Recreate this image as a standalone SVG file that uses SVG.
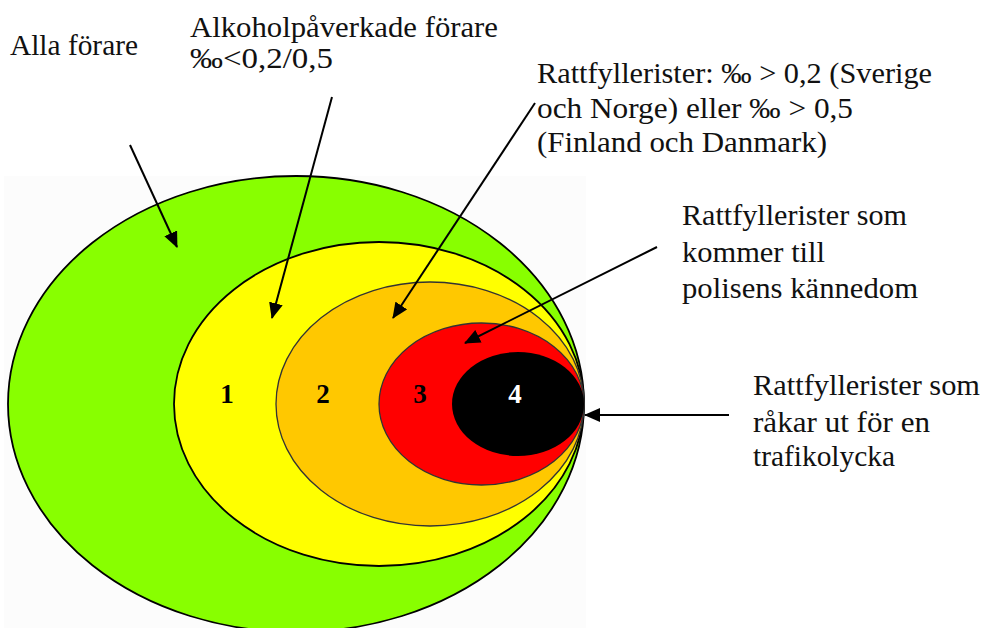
<svg xmlns="http://www.w3.org/2000/svg" width="983" height="628" viewBox="0 0 983 628">
<defs>
<marker id="ah" viewBox="0 0 16 14" refX="15" refY="7" markerWidth="16" markerHeight="14" markerUnits="userSpaceOnUse" orient="auto">
<path d="M0,0 L16,7 L0,14 z" fill="#000"/>
</marker>
<style>
text{font-family:'Liberation Serif','Times New Roman',serif}
.t{font-size:30px;fill:#111}
.n{font-size:27px;font-weight:bold;text-anchor:middle}
.c{stroke:#000;stroke-width:2;fill:none;marker-end:url(#ah)}
.e{stroke:#000;stroke-width:1.8}
.e2{stroke:#333;stroke-width:1.3}
</style>
</defs>
<rect width="983" height="628" fill="#fff"/>
<rect x="4" y="176" width="582" height="452" fill="#fcfcfc"/>
<g id="ring-all">
<ellipse class="e" cx="296" cy="404" rx="288" ry="228" fill="#88ff00"/>
</g>
<g id="ring-1">
<ellipse class="e" cx="379" cy="404" rx="205" ry="162" fill="#ffff00"/>
<text class="n" x="227" y="403">1</text>
</g>
<g id="ring-2">
<ellipse class="e2" cx="430" cy="404" rx="154" ry="122" fill="#ffc800"/>
<text class="n" x="323" y="403">2</text>
</g>
<g id="ring-3">
<ellipse class="e2" cx="481.5" cy="404" rx="102.5" ry="81" fill="#ff0000"/>
<text class="n" x="420" y="403">3</text>
</g>
<g id="ring-4">
<ellipse cx="518" cy="404" rx="66" ry="52" fill="#000"/>
<text class="n" x="515" y="403" fill="#fff">4</text>
</g>
<g id="label-alla">
<text class="t" x="10" y="55" textLength="128" lengthAdjust="spacingAndGlyphs">Alla förare</text>
</g>
<g id="label-alkohol">
<text class="t" x="190" y="37" textLength="308" lengthAdjust="spacingAndGlyphs">Alkoholpåverkade förare</text>
<text class="t" x="190" y="68" textLength="143" lengthAdjust="spacingAndGlyphs">‰&lt;0,2/0,5</text>
</g>
<g id="label-ratt">
<text class="t" x="537" y="83" textLength="395" lengthAdjust="spacingAndGlyphs">Rattfyllerister: ‰ &gt; 0,2 (Sverige</text>
<text class="t" x="537" y="118" textLength="316" lengthAdjust="spacingAndGlyphs">och Norge) eller ‰ &gt; 0,5</text>
<text class="t" x="537" y="152" textLength="290" lengthAdjust="spacingAndGlyphs">(Finland och Danmark)</text>
</g>
<g id="label-polis">
<text class="t" x="682" y="225" textLength="225" lengthAdjust="spacingAndGlyphs">Rattfyllerister som</text>
<text class="t" x="682" y="262" textLength="143" lengthAdjust="spacingAndGlyphs">kommer till</text>
<text class="t" x="682" y="298" textLength="236" lengthAdjust="spacingAndGlyphs">polisens kännedom</text>
</g>
<g id="label-olycka">
<text class="t" x="753" y="395" textLength="227" lengthAdjust="spacingAndGlyphs">Rattfyllerister som</text>
<text class="t" x="753" y="432" textLength="177" lengthAdjust="spacingAndGlyphs">råkar ut för en</text>
<text class="t" x="753" y="466" textLength="142" lengthAdjust="spacingAndGlyphs">trafikolycka</text>
</g>
<g id="connectors">
<line class="c" x1="130" y1="145" x2="177" y2="247"/>
<line class="c" x1="332" y1="97" x2="272" y2="318"/>
<line class="c" x1="535" y1="103" x2="393" y2="318"/>
<line class="c" x1="657" y1="247" x2="465" y2="343"/>
<line class="c" x1="729" y1="415" x2="585" y2="415"/>
</g>
</svg>
